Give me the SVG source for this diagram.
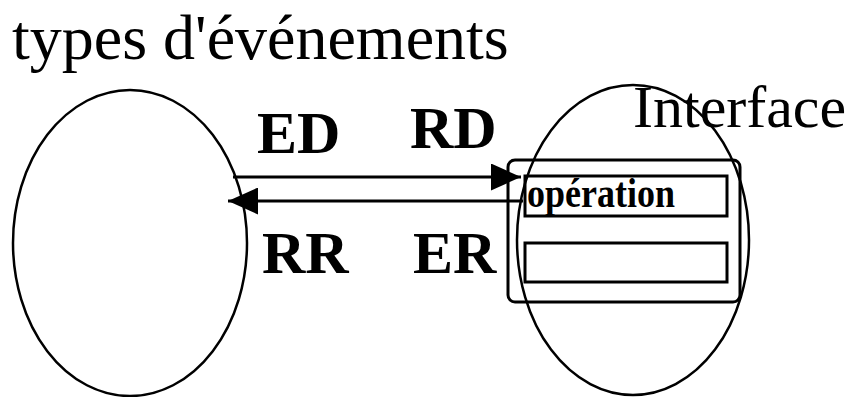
<svg xmlns="http://www.w3.org/2000/svg" width="859" height="397" viewBox="0 0 859 397">
<style>
.s{fill:none;stroke:#000;stroke-width:3}
.e{fill:none;stroke:#000;stroke-width:2.5}
.t{font-family:"Liberation Serif",serif;fill:#000}
.b{font-family:"Liberation Serif",serif;font-weight:bold;fill:#000}
</style>
<defs>
<marker id="a" viewBox="0 0 30 27" refX="30" refY="13.5" markerWidth="30" markerHeight="27" markerUnits="userSpaceOnUse" orient="auto"><path d="M0,0 L30,13.5 L0,27 Z" fill="#000"/></marker>
</defs>
<rect width="859" height="397" fill="#fff"/>
<text class="t" x="12" y="59" font-size="64">types d'événements</text>
<g id="client"><ellipse class="e" cx="130" cy="243" rx="117" ry="153"/></g>
<g id="serveur"><ellipse class="e" cx="633" cy="240" rx="116" ry="155"/></g>
<g id="interface"><rect class="s" x="508" y="160" width="232" height="142" rx="7"/>
<text class="t" x="633" y="127" font-size="60">Interface</text></g>
<g id="op1"><rect class="s" x="525" y="176" width="202" height="40"/><text class="b" transform="translate(527,207) scale(1,1.15)" x="0" y="0" font-size="36">opération</text></g>
<g id="op2"><rect class="s" x="525" y="243" width="202" height="39"/></g>
<g id="connectors">
<line class="s" x1="233" y1="177" x2="521" y2="177" marker-end="url(#a)"/>
<line class="s" x1="523" y1="201" x2="228" y2="201" marker-end="url(#a)"/>
</g>
<text class="b" x="257" y="153" font-size="60">ED</text>
<text class="b" x="410" y="148" font-size="60">RD</text>
<text class="b" x="262" y="273" font-size="60">RR</text>
<text class="b" x="413" y="273" font-size="60">ER</text>
</svg>
